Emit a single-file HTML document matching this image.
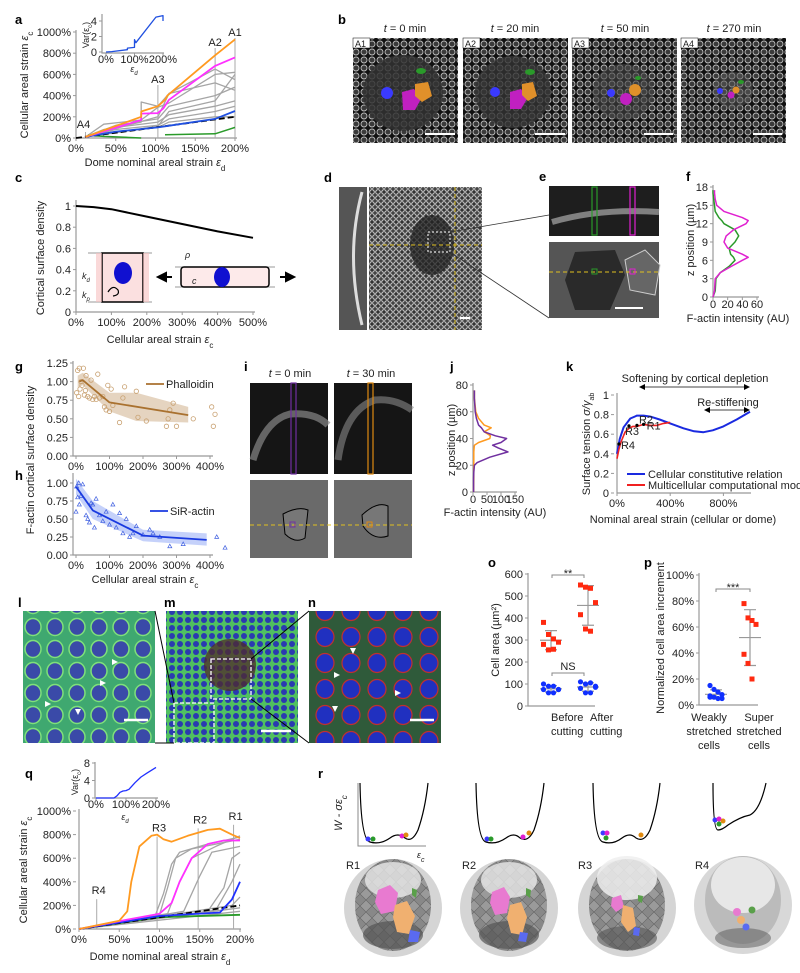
<!DOCTYPE html>
<html><head><meta charset="utf-8"><style>
html,body{margin:0;padding:0;background:#fff}
svg{display:block;font-family:"Liberation Sans",Arial,sans-serif}
.t{font-size:11px;fill:#222}
.s{font-size:9px;fill:#222}
.L{font-size:13px;font-weight:bold;fill:#000}
</style></head><body>
<svg id="fig" width="800" height="973" viewBox="0 0 800 973" xmlns="http://www.w3.org/2000/svg">
<defs>
<pattern id="cells" width="8" height="8" patternUnits="userSpaceOnUse"><rect width="8" height="8" fill="#111"/><circle cx="4" cy="4" r="3" fill="#3a3a3a" stroke="#bbb" stroke-width="0.9"/></pattern>
<pattern id="cellsS" width="6" height="6" patternUnits="userSpaceOnUse"><rect width="6" height="6" fill="#333"/><circle cx="3" cy="3" r="2.3" fill="#444" stroke="#ddd" stroke-width="0.9"/></pattern>
<pattern id="fluo" width="22" height="22" patternUnits="userSpaceOnUse"><rect width="22" height="22" fill="#3fa870"/><ellipse cx="11" cy="11" rx="8" ry="8.5" fill="#3a4aa8" stroke="#7fe07a" stroke-width="1.5"/></pattern>
<pattern id="fluoS" width="8" height="8" patternUnits="userSpaceOnUse"><rect width="8" height="8" fill="#50c060"/><circle cx="4" cy="4" r="3" fill="#2a3ab0"/></pattern>
<pattern id="fluoN" width="26" height="26" patternUnits="userSpaceOnUse"><rect width="26" height="26" fill="#2f5a3a"/><ellipse cx="13" cy="13" rx="9" ry="9.5" fill="#2030c0" stroke="#c03030" stroke-width="1.2"/></pattern>
<pattern id="dome" width="12" height="12" patternUnits="userSpaceOnUse"><rect width="12" height="12" fill="#888"/><path d="M0 6L6 0L12 6L6 12Z" fill="#9a9a9a" stroke="#666" stroke-width="0.6"/></pattern>
</defs>

<g>
<text class="L" x="15" y="24">a</text><text class="L" x="338" y="24">b</text>
<text class="L" x="15" y="182">c</text><text class="L" x="324" y="182">d</text>
<text class="L" x="539" y="181">e</text><text class="L" x="686" y="181">f</text>
<text class="L" x="15" y="371">g</text><text class="L" x="15" y="480">h</text>
<text class="L" x="244" y="371">i</text><text class="L" x="450" y="371">j</text>
<text class="L" x="566" y="371">k</text>
<text class="L" x="18" y="607">l</text><text class="L" x="164" y="607">m</text><text class="L" x="308" y="607">n</text>
<text class="L" x="488" y="567">o</text><text class="L" x="644" y="567">p</text>
<text class="L" x="25" y="778">q</text><text class="L" x="318" y="778">r</text>
</g>

<g>
<text class="t" x="405" y="32" text-anchor="middle" font-size="12"><tspan font-style="italic">t</tspan> = 0 min</text>
<text class="t" x="515" y="32" text-anchor="middle" font-size="12"><tspan font-style="italic">t</tspan> = 20 min</text>
<text class="t" x="625" y="32" text-anchor="middle" font-size="12"><tspan font-style="italic">t</tspan> = 50 min</text>
<text class="t" x="734" y="32" text-anchor="middle" font-size="12"><tspan font-style="italic">t</tspan> = 270 min</text>
<rect x="353" y="38" width="105" height="105" fill="url(#cells)"/><ellipse cx="403" cy="93" rx="40" ry="38" fill="#333" opacity="0.85"/>
<rect x="463" y="38" width="105" height="105" fill="url(#cells)"/><ellipse cx="513" cy="92" rx="38" ry="36" fill="#333" opacity="0.8"/>
<rect x="572" y="38" width="105" height="105" fill="url(#cells)"/><ellipse cx="623" cy="92" rx="30" ry="28" fill="#444" opacity="0.6"/>
<rect x="681" y="38" width="105" height="105" fill="url(#cells)"/><ellipse cx="733" cy="90" rx="20" ry="18" fill="#555" opacity="0.5"/>
<g stroke="none">
<circle cx="387" cy="93" r="6" fill="#3a3aff"/><path d="M402 92l12-3 7 10-6 11-12 0z" fill="#c020c0"/><path d="M415 84l13-2 4 14-10 6-7-6z" fill="#e0902a"/><ellipse cx="421" cy="71" rx="5" ry="3" fill="#2a9a2a"/>
<circle cx="495" cy="92" r="5" fill="#3a3aff"/><path d="M510 92l11-3 6 10-6 10-11 0z" fill="#c020c0"/><path d="M522 84l11-2 4 14-9 5-6-6z" fill="#e0902a"/><ellipse cx="530" cy="72" rx="5" ry="3" fill="#2a9a2a"/>
<circle cx="611" cy="93" r="4" fill="#3a3aff"/><circle cx="626" cy="99" r="6" fill="#c020c0"/><circle cx="635" cy="90" r="6" fill="#e0902a"/><ellipse cx="638" cy="78" rx="3" ry="2" fill="#2a9a2a"/>
<circle cx="720" cy="91" r="3" fill="#3a3aff"/><circle cx="731" cy="95" r="3.5" fill="#c020c0"/><circle cx="736" cy="90" r="3.5" fill="#e0902a"/><ellipse cx="741" cy="82" rx="3" ry="2" fill="#2a9a2a"/>
</g>
<g fill="#fff" stroke="#000" stroke-width="0.5"><rect x="353" y="38" width="17" height="10"/><rect x="463" y="38" width="17" height="10"/><rect x="572" y="38" width="17" height="10"/><rect x="681" y="38" width="17" height="10"/></g>
<g class="s" font-size="10"><text x="355" y="47">A1</text><text x="465" y="47">A2</text><text x="574" y="47">A3</text><text x="683" y="47">A4</text></g>
<g stroke="#fff" stroke-width="2"><line x1="425" y1="134" x2="455" y2="134"/><line x1="535" y1="134" x2="565" y2="134"/><line x1="644" y1="134" x2="673" y2="134"/><line x1="753" y1="134" x2="782" y2="134"/></g>
</g>

<g>
<rect x="339" y="187" width="28" height="143" fill="#555"/><path d="M362 192 Q345 255 362 325" stroke="#ddd" stroke-width="3" fill="none"/>
<rect x="369" y="187" width="113" height="143" fill="url(#cellsS)"/><ellipse cx="432" cy="245" rx="22" ry="30" fill="#222" opacity="0.75"/>
<line x1="369" y1="245" x2="482" y2="245" stroke="#e0c020" stroke-dasharray="4,3"/><line x1="455" y1="187" x2="455" y2="330" stroke="#e0c020" stroke-dasharray="4,3"/>
<rect x="428" y="232" width="22" height="20" fill="none" stroke="#fff" stroke-dasharray="2,2"/>
<line x1="450" y1="232" x2="549" y2="215" stroke="#333" stroke-width="0.8"/><line x1="450" y1="252" x2="549" y2="318" stroke="#333" stroke-width="0.8"/>
<line x1="460" y1="318" x2="470" y2="318" stroke="#fff" stroke-width="2"/>
</g>
<g>
<rect x="549" y="186" width="110" height="50" fill="#1e1e1e"/><path d="M552 222 Q600 208 659 212" stroke="#999" stroke-width="6" fill="none" opacity="0.8"/>
<rect x="592" y="187" width="5" height="48" fill="none" stroke="#2a9a2a" stroke-width="1.2"/><rect x="630" y="187" width="5" height="48" fill="none" stroke="#e020d0" stroke-width="1.2"/>
<rect x="549" y="242" width="110" height="76" fill="#555"/><path d="M575 252 l40-2 10 25-15 35-35 0-10-30z" fill="#2a2a2a"/>
<path d="M625 260 l20-10 15 15-5 30-25-5z" fill="#666" stroke="#ccc"/>
<line x1="549" y1="272" x2="659" y2="272" stroke="#e0c020" stroke-dasharray="4,3"/>
<rect x="592" y="269" width="5" height="5" fill="none" stroke="#2a9a2a"/><rect x="630" y="269" width="5" height="5" fill="none" stroke="#e020d0"/>
<line x1="615" y1="308" x2="643" y2="308" stroke="#fff" stroke-width="2"/>
</g>

<g>
<text class="t" x="290" y="377" text-anchor="middle" font-size="12"><tspan font-style="italic">t</tspan> = 0 min</text>
<text class="t" x="371" y="377" text-anchor="middle" font-size="12"><tspan font-style="italic">t</tspan> = 30 min</text>
<rect x="250" y="383" width="78" height="91" fill="#151515"/><path d="M253 460 Q265 420 290 414 Q315 412 328 425" stroke="#888" stroke-width="7" fill="none" opacity="0.7"/>
<rect x="291" y="383" width="5" height="91" fill="none" stroke="#7030a0" stroke-width="1.2"/>
<rect x="334" y="383" width="78" height="91" fill="#151515"/><path d="M338 460 Q345 410 375 400 Q395 398 412 410" stroke="#888" stroke-width="7" fill="none" opacity="0.6"/>
<rect x="368" y="383" width="5" height="91" fill="none" stroke="#e08a10" stroke-width="1.2"/>
<rect x="250" y="480" width="78" height="78" fill="#6a6a6a"/><path d="M283 514 q15-8 25-4 l-3 28 q-10 6-20-4z" fill="#777" stroke="#000"/>
<rect x="334" y="480" width="78" height="78" fill="#6a6a6a"/><path d="M362 515 q15-14 26-9 l0 30 q-15 5-25-10z" fill="#777" stroke="#000"/>
<line x1="250" y1="525" x2="412" y2="525" stroke="#e0c020" stroke-dasharray="4,3"/>
<rect x="290" y="522" width="5" height="5" fill="none" stroke="#7030a0"/><rect x="367" y="522" width="5" height="5" fill="none" stroke="#e08a10"/>
</g>

<g>
<rect x="23" y="611" width="132" height="132" fill="url(#fluo)"/>
<rect x="166" y="611" width="132" height="132" fill="url(#fluoS)"/><ellipse cx="230" cy="665" rx="26" ry="26" fill="#502a2a" opacity="0.75"/>
<rect x="309" y="611" width="132" height="132" fill="url(#fluoN)"/>
<rect x="211" y="659" width="40" height="40" fill="none" stroke="#fff" stroke-dasharray="4,2" stroke-width="1.3"/>
<rect x="174" y="703" width="40" height="40" fill="none" stroke="#fff" stroke-dasharray="4,2" stroke-width="1.3"/>
<line x1="155" y1="611" x2="174" y2="703" stroke="#000"/><line x1="155" y1="743" x2="174" y2="743" stroke="#000"/>
<line x1="251" y1="659" x2="309" y2="611" stroke="#000"/><line x1="251" y1="699" x2="309" y2="743" stroke="#000"/>
<g stroke="#fff" stroke-width="2.5"><line x1="124" y1="720" x2="148" y2="720"/><line x1="261" y1="731" x2="291" y2="731"/><line x1="410" y1="720" x2="434" y2="720"/></g>
<g fill="#fff"><path d="M112 659l6 3-6 3z"/><path d="M100 680l6 3-6 3z"/><path d="M45 701l6 3-6 3z"/><path d="M75 709l3 6 3-6z"/><path d="M334 672l6 3-6 3z"/><path d="M350 648l3 6 3-6z"/><path d="M332 706l3 6 3-6z"/><path d="M395 690l6 3-6 3z"/></g>
</g>

<g>
<text class="t" transform="translate(342,813) rotate(-90)" text-anchor="middle" font-style="italic">W - σε<tspan font-size="8" baseline-shift="sub">c</tspan></text>
<g fill="none" stroke="#000" stroke-width="1.2">
<path d="M360 783 Q361 840 370 842 Q380 845 390 838 Q398 832 405 838 Q412 843 418 830 Q425 810 428 783"/>
<path d="M476 783 Q477 840 486 842 Q496 845 506 838 Q514 832 520 838 Q528 843 534 830 Q541 810 544 783"/>
<path d="M593 783 Q594 840 603 842 Q613 845 622 838 Q630 832 636 838 Q644 843 650 830 Q657 810 660 783"/>
<path d="M713 783 Q713 830 718 830 Q722 830 728 825 Q740 817 750 815 Q760 810 766 783"/>
</g>
<path d="M358 783 V846 H426" fill="none" stroke="#888"/>
<text class="s" x="417" y="858" font-style="italic">ε<tspan font-size="7" baseline-shift="sub">c</tspan></text>
<g><circle cx="368" cy="839" r="2.5" fill="#3a3aff"/><circle cx="373" cy="839" r="2.5" fill="#2a9a2a"/><circle cx="402" cy="836" r="2.5" fill="#e020d0"/><circle cx="406" cy="835" r="2.5" fill="#e08a10"/>
<circle cx="487" cy="839" r="2.5" fill="#3a3aff"/><circle cx="491" cy="839" r="2.5" fill="#2a9a2a"/><circle cx="523" cy="837" r="2.5" fill="#e020d0"/><circle cx="529" cy="833" r="2.5" fill="#e08a10"/>
<circle cx="603" cy="833" r="2.5" fill="#3a3aff"/><circle cx="607" cy="833" r="2.5" fill="#e020d0"/><circle cx="606" cy="838" r="2.5" fill="#2a9a2a"/><circle cx="641" cy="835" r="2.5" fill="#e08a10"/>
<circle cx="715" cy="820" r="2.5" fill="#3a3aff"/><circle cx="719" cy="819" r="2.5" fill="#e020d0"/><circle cx="723" cy="821" r="2.5" fill="#e08a10"/><circle cx="719" cy="824" r="2.5" fill="#2a9a2a"/></g>
<g class="t" font-size="12"><text x="346" y="869">R1</text><text x="462" y="869">R2</text><text x="578" y="869">R3</text><text x="695" y="869">R4</text></g>
<g>
<circle cx="393" cy="908" r="49" fill="#d5d5d5"/><ellipse cx="393" cy="905" rx="38" ry="46" fill="url(#dome)"/><ellipse cx="393" cy="880" rx="28" ry="18" fill="#e8e8e8" opacity="0.8"/><ellipse cx="393" cy="935" rx="30" ry="14" fill="#555" opacity="0.7"/>
<path d="M378 890l12-5 8 8-3 18-14 3-6-12z" fill="#e87ad0"/><path d="M395 905l12-4 8 15-6 18-12-2-4-15z" fill="#f0b070"/><path d="M410 930l10 2-2 10-10 0z" fill="#5a6af0"/><path d="M412 888l5 2-1 8-4-3z" fill="#5aa04a"/>
<circle cx="509" cy="908" r="49" fill="#d5d5d5"/><ellipse cx="509" cy="905" rx="38" ry="46" fill="url(#dome)"/><ellipse cx="509" cy="880" rx="28" ry="18" fill="#e8e8e8" opacity="0.8"/><ellipse cx="509" cy="935" rx="30" ry="14" fill="#555" opacity="0.7"/>
<path d="M492 892l12-5 6 10-3 16-12 2-5-12z" fill="#e87ad0"/><path d="M510 905l11-3 6 15-5 18-11-2-4-15z" fill="#f0b070"/><path d="M520 932l8 1-2 9-8-1z" fill="#5a6af0"/><path d="M526 888l5 2-1 8-4-3z" fill="#5aa04a"/>
<circle cx="627" cy="908" r="49" fill="#d5d5d5"/><ellipse cx="627" cy="905" rx="38" ry="46" fill="url(#dome)"/><ellipse cx="627" cy="878" rx="30" ry="22" fill="#eee" opacity="0.85"/><ellipse cx="627" cy="938" rx="30" ry="12" fill="#555" opacity="0.6"/>
<path d="M612 898l9-3 3 12-8 5-5-6z" fill="#e87ad0"/><path d="M623 905l10 3 3 18-8 6-7-10z" fill="#f0b070"/><path d="M634 927l6 1-1 8-6-1z" fill="#5a6af0"/><path d="M638 895l5 1-1 7-4-2z" fill="#5aa04a"/>
<circle cx="743" cy="905" r="49" fill="#d8d8d8"/><ellipse cx="743" cy="900" rx="38" ry="44" fill="#bbb"/><ellipse cx="743" cy="885" rx="32" ry="28" fill="#eee" opacity="0.85"/><ellipse cx="743" cy="938" rx="28" ry="10" fill="#555" opacity="0.5"/>
<circle cx="737" cy="912" r="4" fill="#e87ad0"/><circle cx="741" cy="920" r="4" fill="#f0b070"/><circle cx="746" cy="927" r="3.5" fill="#5a6af0"/><circle cx="752" cy="910" r="3.5" fill="#5aa04a"/>
</g>
</g>

<g id="charts"></g>
</svg>

<script>
const NS='http://www.w3.org/2000/svg';
const root=document.getElementById('charts');
function E(tag,at,par){const e=document.createElementNS(NS,tag);for(const k in at)e.setAttribute(k,at[k]);(par||root).appendChild(e);return e;}
function T(x,y,s,cls,anchor,par){const e=E('text',{x:x,y:y,class:cls||'t','text-anchor':anchor||'middle'},par);e.textContent=s;return e;}
function pathOf(xs,ys,sx,sy){return xs.map((v,i)=>(i?'L':'M')+sx(v).toFixed(1)+' '+sy(ys[i]).toFixed(1)).join(' ');}
function ptsPath(pts,sx,sy){return pts.map((p,i)=>(i?'L':'M')+sx(p[0]).toFixed(1)+' '+sy(p[1]).toFixed(1)).join(' ');}

const aTicksY=[0,200,400,600,800,1000];
const aTicksX=[0,50,100,150,200];
const aOrange=[[12,10],[82,200],[82,250],[103,300],[112,360],[115,400],[175,780],[200,930]];
const aMagenta=[[12,10],[82,170],[82,230],[103,235],[110,280],[117,360],[175,680],[200,760]];
const aBlue=[[12,10],[50,60],[103,100],[112,110],[175,180],[200,255]];
const aGreen1=[[15,25],[35,15],[82,0]];
const aGreen2=[[112,30],[175,40],[200,100]];
const aGray=[
[[12,10],[35,130],[82,170],[103,290],[117,330],[175,600],[200,620]],
[[12,10],[35,80],[82,150],[82,340],[103,300],[117,420],[175,520],[200,450]],
[[12,10],[50,120],[103,180],[117,300],[175,400],[200,480]],
[[12,10],[50,100],[103,150],[117,220],[175,300],[200,350]],
[[12,10],[50,80],[103,120],[117,180],[175,250],[200,300]],
[[12,10],[50,60],[103,100],[117,150],[175,200],[200,200]],
[[12,10],[50,90],[103,200],[117,420],[175,650],[200,550]],
[[12,10],[50,50],[103,110],[117,250],[175,350],[200,600]]];
const aVarX=[0,20,75,75,100,100,105,175,200,200];
const aVarY=[0,0.05,0.3,0.5,0.6,1.6,1.2,4.5,4.7,4.0];
const aMarkers=[['A4',12],['A3',103],['A2',175],['A1',200]];

const qTicksY=[0,200,400,600,800,1000];
const qTicksX=[0,50,100,150,200];
const qOrange=[[0,0],[50,70],[60,150],[65,400],[75,700],[90,790],[97,800],[105,760],[115,740],[135,790],[160,840],[175,850],[190,800],[200,770]];
const qMagenta=[[0,0],[60,80],[100,130],[115,220],[125,400],[140,600],[160,720],[180,750],[200,750]];
const qBlue=[[0,0],[100,110],[175,140],[190,250],[200,400]];
const qGreen=[[0,0],[100,100],[200,120]];
const qGray=[
[[0,0],[95,120],[105,300],[115,550],[125,650],[160,720],[200,780]],
[[0,0],[100,120],[110,350],[120,600],[140,680],[200,760]],
[[0,0],[110,130],[125,400],[140,600],[170,700],[200,790]],
[[0,0],[130,150],[150,450],[165,650],[200,700]],
[[0,0],[160,150],[180,350],[190,600],[200,650]],
[[0,0],[170,160],[190,400],[200,550]],
[[0,0],[200,180]],[[0,0],[200,150]],[[0,0],[190,200],[200,270]]];
const qVarX=[0,60,70,80,90,100,110,130,150,170,200];
const qVarY=[0,0,0.5,1.3,1.6,1.7,2,3.5,4.8,5.7,7];
const qMarkers=[['R4',22,270],['R3',97,800],['R2',148,870],['R1',192,900]];

const cX=[0,50,100,200,300,400,500];
const cY=[1,0.99,0.97,0.9,0.83,0.76,0.7];
const cTicksY=[0,0.2,0.4,0.6,0.8,1];
const cTicksX=[0,100,200,300,400,500];

const gLineX=[10,20,100,335];
const gLineY=[1.0,1.02,0.72,0.55];
const gBandX=[5,20,100,180,335];
const gBandHi=[1.08,1.12,0.85,0.85,0.66];
const gBandLo=[0.92,0.95,0.6,0.47,0.45];
const gPtsX=[2,5,8,10,12,15,18,22,25,28,30,35,40,45,50,55,60,65,70,80,85,90,95,100,105,110,130,140,145,180,185,210,270,275,280,290,300,350,405,410,415];
const gPtsY=[0.85,1.15,0.8,1.18,0.9,1.0,0.95,1.18,0.82,0.88,1.08,0.8,0.78,1.02,0.76,0.8,0.76,1.1,0.78,0.8,0.66,0.62,0.95,0.6,0.9,0.68,0.45,0.78,0.93,0.87,0.52,0.47,0.4,0.5,0.62,0.71,0.4,0.5,0.66,0.4,0.56];
const hLineX=[0,50,200,390];
const hLineY=[0.95,0.62,0.27,0.21];
const hBandX=[0,50,200,390];
const hBandHi=[1.06,0.75,0.35,0.3];
const hBandLo=[0.84,0.5,0.19,0.13];
const hPtsX=[0,2,5,8,10,15,20,30,35,40,45,50,55,60,70,80,90,100,110,120,130,140,150,160,170,180,200,220,230,250,280,320,420,445];
const hPtsY=[0.6,0.95,0.8,1.0,0.7,0.82,0.98,0.55,0.5,0.45,0.72,0.7,0.38,0.78,0.55,0.47,0.6,0.42,0.7,0.38,0.58,0.3,0.5,0.25,0.3,0.4,0.28,0.35,0.3,0.25,0.12,0.15,0.25,0.1];
const ghTicksX=[0,100,200,300,400];
const gTicksY=[0,0.25,0.5,0.75,1.0,1.25];
const hTicksY=[0,0.25,0.5,0.75,1.0];

const fZ=[0,1,3,4,5,6,6.5,7,8,9,10,11,12,12.5,13,14,15,16,17,17.5];
const fMag=[0,2,3,10,25,40,48,40,20,15,18,28,45,48,40,15,5,3,2,2];
const fGrn=[0,3,4,10,22,30,28,24,22,30,35,30,15,12,8,3,2,1,0,0];
const jZ=[0,10,15,20,22,26,30,33,35,37,40,42,45,48,50,55,60,70,76];
const jPur=[2,2,3,5,15,60,125,90,70,100,120,80,40,30,20,12,8,5,5];
const jOra=[2,3,3,3,3,3,3,4,5,20,60,62,40,65,40,20,10,5,5];
const fTicksY=[0,3,6,9,12,15,18];const fTicksX=[0,20,40,60];
const jTicksY=[0,20,40,60,80];const jTicksX=[0,50,100,150];

const kBlueX=[0,20,50,100,150,200,250,320,400,500,580,650,720,800,900,1000];
const kBlueY=[0.4,0.55,0.67,0.76,0.79,0.79,0.78,0.75,0.71,0.66,0.63,0.62,0.64,0.68,0.75,0.83];
const kRedX=[0,15,30,60,90,120,150,200,250,300,350,400];
const kRedY=[0.35,0.45,0.52,0.62,0.66,0.68,0.68,0.7,0.69,0.69,0.71,0.72];
const kTicksY=[0,0.2,0.4,0.6,0.8,1];const kTicksX=[0,400,800];
const kMarks=[['R4',15,0.5],['R3',90,0.685],['R2',150,0.69],['R1',200,0.7]];

const oBeforeRed=[380,325,305,290,280,255,258];
const oAfterRed=[550,540,535,470,415,350,340];
const oBeforeBlue=[100,90,90,75,75,60,60,75];
const oAfterBlue=[110,100,105,90,80,60,60,85];
const oTicksY=[0,100,200,300,400,500,600];
const pWeak=[15,12,10,8,7,6,5,5,6];
const pSuper=[78,67,65,62,39,32,20];
const pTicksY=[0,20,40,60,80,100];

function pct(v){return v+'%';}
function axes(x0,x1,y0,y1){const g=E('path',{d:`M${x0} ${y1} V${y0} H${x1}`,fill:'none',stroke:'#999','stroke-width':1.2});return g;}
function yTicks(ticks,sy,x0,fmt,fs){ticks.forEach(t=>{E('line',{x1:x0-3,x2:x0,y1:sy(t),y2:sy(t),stroke:'#999'});const e=T(x0-5,sy(t)+4,fmt(t),'t','end');if(fs)e.setAttribute('font-size',fs);});}
function xTicks(ticks,sx,y0,fmt,fs,dy){ticks.forEach(t=>{E('line',{x1:sx(t),x2:sx(t),y1:y0,y2:y0+3,stroke:'#999'});const e=T(sx(t),y0+(dy||13),fmt(t),'t','middle');if(fs)e.setAttribute('font-size',fs);});}
function ln(d,col,w,dash){const e=E('path',{d:d,fill:'none',stroke:col,'stroke-width':w,'stroke-linejoin':'round'});if(dash)e.setAttribute('stroke-dasharray',dash);return e;}

{
const sx=v=>76+v*159/200, sy=v=>138-v*106/1000;
const ax=axes(76,237,138,30);


yTicks(aTicksY,sy,76,pct,12);xTicks(aTicksX,sx,138,pct,12,14);
aMarkers.forEach(m=>{const l=E('line',{x1:sx(m[1]),x2:sx(m[1]),y1:138,y2:m[0]=='A4'?132:(m[0]=='A3'?85:(m[0]=='A2'?48:38)),stroke:'#aaa'});


const t=T(sx(m[1])+(m[0]=='A4'?-2:0),m[0]=='A4'?128:(m[0]=='A3'?83:(m[0]=='A2'?46:36)),m[0],'t','middle');t.setAttribute('font-size','12');

});
aGray.forEach(s=>{const e=ln(ptsPath(s,sx,sy),'#a5a5a5',1.3);

});
let e=ln(ptsPath(aGreen1,sx,sy),'#2a9a2a',1.5);


e=ln(ptsPath(aGreen2,sx,sy),'#2a9a2a',1.5);


e=ln(ptsPath([[0,0],[200,200]],sx,sy),'#000',1.8,'6,3');


e=ln(ptsPath(aBlue,sx,sy),'#2050e0',1.8);


e=ln(ptsPath(aMagenta,sx,sy),'#ff30ff',1.8);


e=ln(ptsPath(aOrange,sx,sy),'#ff9a20',1.8);


const yt=E('text',{class:'t',transform:'translate(28,85) rotate(-90)','text-anchor':'middle','font-size':'12'});yt.innerHTML='Cellular areal strain <tspan font-style="italic">ε</tspan><tspan font-size="8" baseline-shift="sub">c</tspan>';


const xt=E('text',{class:'t',x:155,y:166,'text-anchor':'middle','font-size':'12'});xt.innerHTML='Dome nominal areal strain <tspan font-style="italic">ε</tspan><tspan font-size="8" baseline-shift="sub">d</tspan>';


const ix=v=>106+v*57/200, iy=v=>52-v*31/4;
const ia=axes(102,164,53,14);


yTicks([0,2,4],iy,102,String,9);xTicks([0,100,200],ix,53,pct,9,10);
e=ln(pathOf(aVarX,aVarY,ix,iy),'#2050e0',1.3);


const it=E('text',{class:'s',transform:'translate(89,35) rotate(-90)','text-anchor':'middle'});it.innerHTML='Var(ε<tspan font-size="6" baseline-shift="sub">c</tspan>)';


const ixt=E('text',{class:'s',x:134,y:72,'text-anchor':'middle','font-style':'italic'});ixt.innerHTML='ε<tspan font-size="6" baseline-shift="sub">d</tspan>';


}

{
const sx=v=>79+v*161/200, sy=v=>929-v*118/1000;
const ax=axes(79,241,929,809);


yTicks(qTicksY,sy,76,pct,12);xTicks(qTicksX,sx,929,pct,12,14);
qMarkers.forEach(m=>{const l=E('line',{x1:sx(m[1]),x2:sx(m[1]),y1:929,y2:sy(m[2])+2,stroke:'#aaa'});


const t=T(sx(m[1])+2,sy(m[2])-3,m[0],'t','middle');t.setAttribute('font-size','12');

});
qGray.forEach(s=>{const e=ln(ptsPath(s,sx,sy),'#a5a5a5',1.3);

});
let e=ln(ptsPath(qGreen,sx,sy),'#2a9a2a',1.8);


e=ln(ptsPath([[0,0],[200,200]],sx,sy),'#000',1.8,'6,3');


e=ln(ptsPath(qBlue,sx,sy),'#2030ff',1.8);


e=ln(ptsPath(qMagenta,sx,sy),'#ff30ff',1.8);


e=ln(ptsPath(qOrange,sx,sy),'#ff9a20',1.8);


const yt=E('text',{class:'t',transform:'translate(27,870) rotate(-90)','text-anchor':'middle','font-size':'12'});yt.innerHTML='Cellular areal strain <tspan font-style="italic">ε</tspan><tspan font-size="8" baseline-shift="sub">c</tspan>';


const xt=E('text',{class:'t',x:160,y:960,'text-anchor':'middle','font-size':'12'});xt.innerHTML='Dome nominal areal strain <tspan font-style="italic">ε</tspan><tspan font-size="8" baseline-shift="sub">d</tspan>';


const ix=v=>96+v*60/200, iy=v=>798-v*35/8;
const ia=axes(95,158,798,762);


yTicks([0,4,8],iy,95,String,9);xTicks([0,100,200],ix,798,pct,9,10);
e=ln(pathOf(qVarX,qVarY,ix,iy),'#2030ff',1.3);


const it=E('text',{class:'s',transform:'translate(78,782) rotate(-90)','text-anchor':'middle'});it.innerHTML='Var(ε<tspan font-size="6" baseline-shift="sub">c</tspan>)';


const ixt=E('text',{class:'s',x:125,y:820,'text-anchor':'middle','font-style':'italic'});ixt.innerHTML='ε<tspan font-size="6" baseline-shift="sub">d</tspan>';


}

{
const sx=v=>76+v*177/500, sy=v=>312-v*106;
const ax=axes(76,255,312,200);


yTicks(cTicksY,sy,76,v=>v===0||v===1?String(v):v.toFixed(1),12);xTicks(cTicksX,sx,312,pct,12,14);
const e=ln(pathOf(cX,cY,sx,sy),'#000',2);


const yt=T(0,0,'Cortical surface density');yt.setAttribute('transform','translate(44,258) rotate(-90)');yt.setAttribute('font-size','12');


const xt=E('text',{class:'t',x:160,y:343,'text-anchor':'middle','font-size':'12'});xt.innerHTML='Cellular areal strain <tspan font-style="italic">ε</tspan><tspan font-size="8" baseline-shift="sub">c</tspan>';


const cell=E('g',{});


cell.innerHTML='<line x1="88" y1="253" x2="152" y2="253" stroke="#999"/><line x1="88" y1="302" x2="152" y2="302" stroke="#999"/><rect x="102" y="253" width="41" height="49" fill="#fbe0e0" stroke="#000" stroke-width="1.5"/><rect x="96" y="253" width="6" height="49" fill="#f6c0c0" opacity="0.6"/><rect x="143" y="253" width="6" height="49" fill="#f6c0c0" opacity="0.6"/><ellipse cx="123" cy="273" rx="9" ry="11" fill="#1010d0"/><path d="M108 292 q5-8 10-2 q2 5-5 6" fill="none" stroke="#000" stroke-width="1.2"/><text class="s" x="82" y="279" font-style="italic">k<tspan font-size="6" baseline-shift="sub">d</tspan></text><text class="s" x="82" y="298" font-style="italic">k<tspan font-size="6" baseline-shift="sub">p</tspan></text><line x1="175" y1="267" x2="275" y2="267" stroke="#999"/><line x1="175" y1="287" x2="275" y2="287" stroke="#999"/><rect x="181" y="267" width="88" height="20" rx="3" fill="#fdeaea" stroke="#000" stroke-width="1.5"/><ellipse cx="222" cy="277" rx="8" ry="10" fill="#1010d0"/><text class="s" x="185" y="258" font-style="italic">ρ</text><text class="s" x="192" y="284" font-style="italic">c</text><path d="M172 277 h-6 v-4 l-8 4 l8 4 v-4" fill="#000" stroke="#000" stroke-width="2"/><path d="M280 277 h6 v-4 l8 4 l-8 4 v-4" fill="#000" stroke="#000" stroke-width="2"/>';
root.appendChild(cell);
}

{
const sx=v=>76+v*134/400;
const gy=v=>456-v*93/1.25, hy=v=>555-v*72;
let ax=axes(73,213,456,361);


yTicks(gTicksY,gy,73,v=>v.toFixed(2),12);xTicks(ghTicksX,sx,456,pct,12,14);
const hiPts=gBandX.map((x,i)=>[x,gBandHi[i]]),loPts=gBandX.map((x,i)=>[x,gBandLo[i]]).reverse();
let b=E('path',{d:ptsPath(hiPts.concat(loPts),sx,gy)+'Z',fill:'#a9712f',opacity:0.3});


gPtsX.forEach((x,i)=>{const c=E('circle',{cx:sx(x),cy:gy(gPtsY[i]),r:2.2,fill:'none',stroke:'#c8a070','stroke-width':0.8});

});
let l=ln(pathOf(gLineX,gLineY,sx,gy),'#a9712f',1.8);


let lg=E('line',{x1:146,x2:164,y1:384,y2:384,stroke:'#a9712f','stroke-width':1.8});


let lt=T(166,388,'Phalloidin','t','start');



ax=axes(73,213,555,473);


yTicks(hTicksY,hy,73,v=>v.toFixed(2),12);xTicks(ghTicksX,sx,555,pct,12,14);
const hHi=hBandX.map((x,i)=>[x,hBandHi[i]]),hLo=hBandX.map((x,i)=>[x,hBandLo[i]]).reverse();
b=E('path',{d:ptsPath(hHi.concat(hLo),sx,hy)+'Z',fill:'#5a7af0',opacity:0.35});


hPtsX.forEach((x,i)=>{const p=E('path',{d:`M${sx(x)} ${hy(hPtsY[i])-2.2}l2 3.6h-4z`,fill:'none',stroke:'#4060e0','stroke-width':0.7});

});
l=ln(pathOf(hLineX,hLineY,sx,hy),'#1a3ae0',1.8);


lg=E('line',{x1:150,x2:168,y1:511,y2:511,stroke:'#1a3ae0','stroke-width':1.8});


lt=T(170,515,'SiR-actin','t','start');


const yt=T(0,0,'F-actin cortical surface density');yt.setAttribute('transform','translate(34,460) rotate(-90)');yt.setAttribute('font-size','12');


const xt=E('text',{class:'t',x:145,y:583,'text-anchor':'middle','font-size':'12'});xt.innerHTML='Cellular areal strain <tspan font-style="italic">ε</tspan><tspan font-size="8" baseline-shift="sub">c</tspan>';


}

{
const sx=v=>713+v*44/60, sy=v=>297-v*110/18;
const ax=axes(713,759,297,185);


yTicks(fTicksY,sy,713,String,10);xTicks(fTicksX,sx,297,String,10,11);
let l=ln(pathOf(fGrn,fZ,sx,sy),'#2a9a2a',1.5);


l=ln(pathOf(fMag,fZ,sx,sy),'#e020d0',1.5);


const yt=T(0,0,'z position (µm)');yt.setAttribute('transform','translate(694,240) rotate(-90)');yt.setAttribute('font-size','10');


const xt=T(738,322,'F-actin intensity (AU)');xt.setAttribute('font-size','10');


}

{
const sx=v=>473+v*42/150, sy=v=>492-v*107/80;
const ax=axes(473,517,492,383);


yTicks(jTicksY,sy,473,String,10);xTicks(jTicksX,sx,492,String,8.5,11);
let l=ln(pathOf(jOra,jZ,sx,sy),'#ff9a20',1.5);


l=ln(pathOf(jPur,jZ,sx,sy),'#7030a0',1.5);


const yt=T(0,0,'z position (µm)');yt.setAttribute('transform','translate(455,440) rotate(-90)');yt.setAttribute('font-size','10');


const xt=T(495,516,'F-actin intensity (AU)');xt.setAttribute('font-size','10');


}

{
const sx=v=>617+v*133/1000, sy=v=>493-v*98;
const ax=axes(617,751,493,393);


yTicks(kTicksY,sy,614,v=>v===0||v===1?String(v):v.toFixed(1),12);xTicks(kTicksX,sx,493,pct,12,14);
let l=ln(pathOf(kBlueX,kBlueY,sx,sy),'#1a2ae0',2);


l=ln(pathOf(kRedX,kRedY,sx,sy),'#f02020',1.6);


kMarks.forEach(m=>{const c=E('circle',{cx:sx(m[1]),cy:sy(m[2]),r:1.6,fill:'#000'});


const dx=m[0]=='R3'?-4:(m[0]=='R1'?3:2),dy=m[0]=='R2'?-2:(m[0]=='R4'?5:(m[0]=='R3'?9:5));
const t=T(sx(m[1])+dx,sy(m[2])+dy,m[0],'t','start');t.setAttribute('font-size','10');

});
const ann=E('g',{});


ann.innerHTML='<text class="t" x="695" y="382" text-anchor="middle" font-size="12">Softening by cortical depletion</text><line x1="641" y1="387" x2="748" y2="387" stroke="#444"/><path d="M639 387l6-3v6z M750 387l-6-3v6z" fill="#000"/><text class="t" x="728" y="406" text-anchor="middle" font-size="12">Re-stiffening</text><line x1="706" y1="410" x2="748" y2="410" stroke="#444"/><path d="M704 410l6-3v6z M750 410l-6-3v6z" fill="#000"/><line x1="627" y1="474" x2="645" y2="474" stroke="#1a2ae0" stroke-width="2"/><text class="t" x="648" y="478" text-anchor="start">Cellular constitutive relation</text><line x1="627" y1="485" x2="645" y2="485" stroke="#f02020" stroke-width="2"/><text class="t" x="648" y="489" text-anchor="start">Multicellular computational model</text><text class="t" x="683" y="523" text-anchor="middle" font-size="12">Nominal areal strain (cellular or dome)</text><text class="t" transform="translate(590,444) rotate(-90)" text-anchor="middle" font-size="12">Surface tension <tspan font-style="italic">σ/γ</tspan><tspan font-size="7" baseline-shift="sub">ab</tspan></text>';
root.appendChild(ann);
}

{
const sy=v=>706-v*132/600;
const ax=axes(528,595,706,573);


yTicks(oTicksY,sy,528,String,12);
const groups=[[551,oBeforeRed,'#ff2a10','o-before-red-point'],[588,oAfterRed,'#ff2a10','o-after-red-point'],[551,oBeforeBlue,'#1030ff','o-before-blue-point'],[588,oAfterBlue,'#1030ff','o-after-blue-point']];
groups.forEach(g=>{const vals=g[1];const m=vals.reduce((a,b)=>a+b,0)/vals.length;const sd=Math.sqrt(vals.reduce((a,b)=>a+(b-m)*(b-m),0)/(vals.length-1));
const bar=E('path',{d:`M${g[0]} ${sy(m+sd)}V${sy(m-sd)}M${g[0]-6} ${sy(m+sd)}h12M${g[0]-6} ${sy(m-sd)}h12M${g[0]-11} ${sy(m)}h22`,stroke:'#999','stroke-width':1.2,fill:'none'});


vals.forEach((v,i)=>{const dx=((i%4)-1.5)*5;let el;
if(g[2]=='#ff2a10'){el=E('rect',{x:g[0]+dx-2.5,y:sy(v)-2.5,width:5,height:5,fill:g[2]});}else{el=E('circle',{cx:g[0]+dx,cy:sy(v),r:2.6,fill:g[2]});}

});});
const ann=E('g',{});


ann.innerHTML='<path d="M552 578v-3h32v3" fill="none" stroke="#888"/><text class="t" x="568" y="577" text-anchor="middle">**</text><path d="M552 676v-3h32v3" fill="none" stroke="#888"/><text class="t" x="568" y="670" text-anchor="middle" font-size="12">NS</text><text class="t" x="551" y="721" font-size="12">Before</text><text class="t" x="551" y="735" font-size="12">cutting</text><text class="t" x="590" y="721" font-size="12">After</text><text class="t" x="590" y="735" font-size="12">cutting</text><text class="t" transform="translate(499,640) rotate(-90)" text-anchor="middle" font-size="12">Cell area (µm²)</text>';
root.appendChild(ann);
}

{
const sy=v=>705-v*130/100;
const ax=axes(699,758,705,573);


yTicks(pTicksY,sy,699,pct,12);
const groups=[[716,pWeak,'#1030ff','p-weak-point'],[750,pSuper,'#ff2a10','p-super-point']];
groups.forEach(g=>{const vals=g[1];const m=vals.reduce((a,b)=>a+b,0)/vals.length;const sd=Math.sqrt(vals.reduce((a,b)=>a+(b-m)*(b-m),0)/(vals.length-1));
const bar=E('path',{d:`M${g[0]} ${sy(m+sd)}V${sy(Math.max(0,m-sd))}M${g[0]-6} ${sy(m+sd)}h12M${g[0]-6} ${sy(Math.max(0,m-sd))}h12M${g[0]-11} ${sy(m)}h22`,stroke:'#999','stroke-width':1.2,fill:'none'});


vals.forEach((v,i)=>{const dx=((i%4)-1.5)*4;let el;
if(g[2]=='#ff2a10'){el=E('rect',{x:g[0]+dx-2.5,y:sy(v)-2.5,width:5,height:5,fill:g[2]});}else{el=E('circle',{cx:g[0]+dx,cy:sy(v),r:2.6,fill:g[2]});}

});});
const ann=E('g',{});


ann.innerHTML='<path d="M716 592v-3h34v3" fill="none" stroke="#888"/><text class="t" x="733" y="591" text-anchor="middle">***</text><text class="t" x="709" y="721" text-anchor="middle" font-size="12">Weakly</text><text class="t" x="709" y="735" text-anchor="middle" font-size="12">stretched</text><text class="t" x="709" y="749" text-anchor="middle" font-size="12">cells</text><text class="t" x="759" y="721" text-anchor="middle" font-size="12">Super</text><text class="t" x="759" y="735" text-anchor="middle" font-size="12">stretched</text><text class="t" x="759" y="749" text-anchor="middle" font-size="12">cells</text><text class="t" transform="translate(664,638) rotate(-90)" text-anchor="middle" font-size="12">Normalized cell area increment</text>';
root.appendChild(ann);
}
</script>
</body></html>
